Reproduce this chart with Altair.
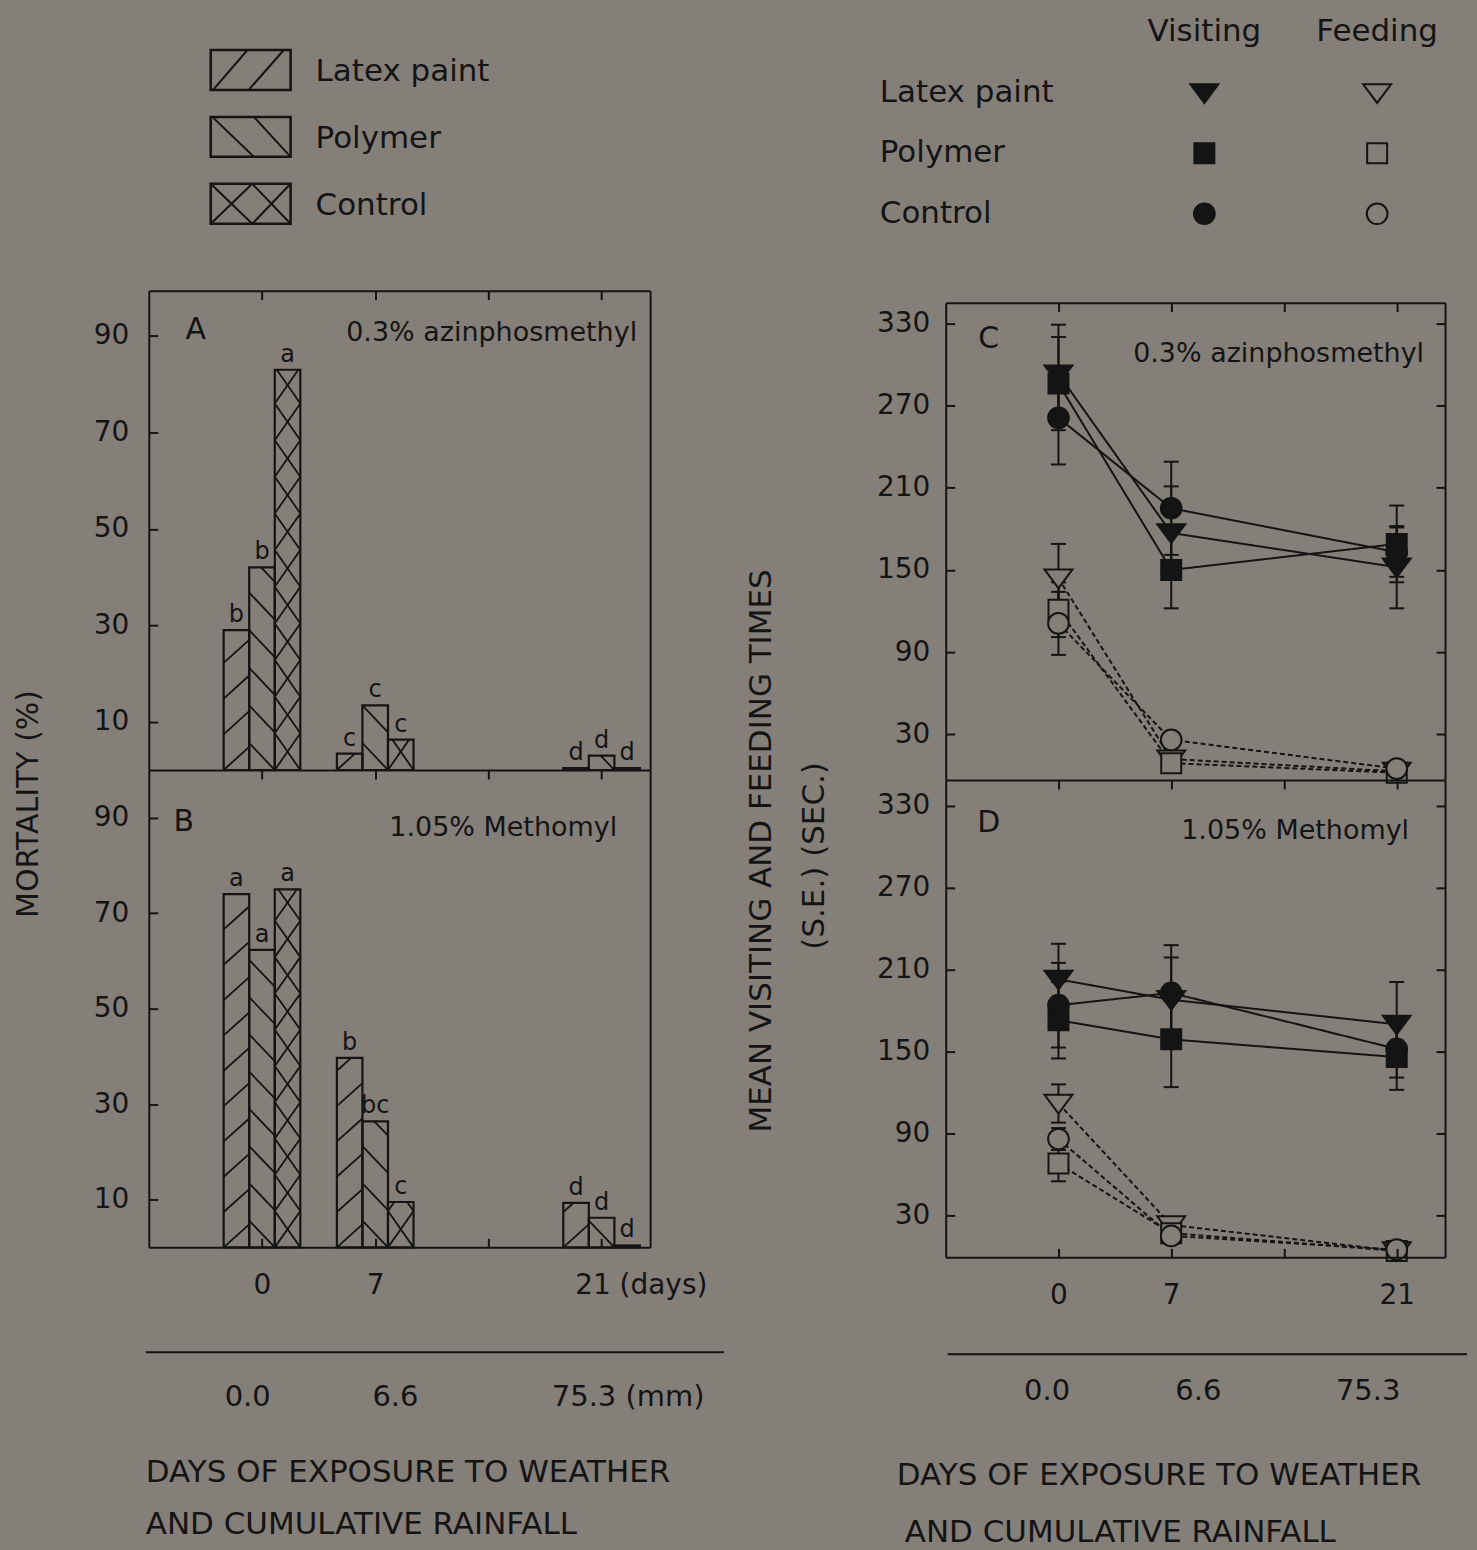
import math
import altair as alt
import pandas as pd

# ---------------- data ----------------
TREATMENTS = ["Latex paint", "Polymer", "Control"]
KINDS = ["Visiting", "Feeding"]
DAYS = [0, 7, 21]
DAY_TICKS = [0, 7, 14, 21]
RAIN_LABELS_LEFT = ["0.0", "6.6", "75.3 (mm)"]
RAIN_LABELS_RIGHT = ["0.0", "6.6", "75.3"]
MORT_TICKS = [10, 30, 50, 70, 90]
TIME_TICKS = [30, 90, 150, 210, 270, 330]

PANEL_LETTERS = ["A", "B", "C", "D"]
PANEL_TITLES = ["0.3% azinphosmethyl", "1.05% Methomyl"]
Y_TITLE_LEFT = "MORTALITY (%)"
Y_TITLE_RIGHT = ["MEAN VISITING AND FEEDING TIMES", "(S.E.) (SEC.)"]
X_TITLE = ["DAYS OF EXPOSURE TO WEATHER", "AND CUMULATIVE RAINFALL"]

# Panel A: mortality (%), 0.3% azinphosmethyl
A_LATEX = [29.0, 3.4, 0.4]
A_POLYMER = [42.0, 13.4, 3.0]
A_CONTROL = [83.0, 6.3, 0.4]
A_LET_LATEX = ["b", "c", "d"]
A_LET_POLYMER = ["b", "c", "d"]
A_LET_CONTROL = ["a", "c", "d"]

# Panel B: mortality (%), 1.05% Methomyl
B_LATEX = [74.0, 39.7, 9.3]
B_POLYMER = [62.3, 26.4, 6.2]
B_CONTROL = [75.0, 9.5, 0.4]
B_LET_LATEX = ["a", "b", "d"]
B_LET_POLYMER = ["a", "bc", "d"]
B_LET_CONTROL = ["a", "c", "d"]

# Panel C: visiting / feeding times (s), 0.3% azinphosmethyl
C_VIS_LATEX = [293, 177, 152]
C_VIS_LATEX_SE = [36, 34, 30]
C_VIS_POLYMER = [286, 150, 169]
C_VIS_POLYMER_SE = [34, 28, 28]
C_VIS_CONTROL = [261, 195, 163]
C_VIS_CONTROL_SE = [34, 34, 18]
C_FEED_LATEX = [144, 12, 3]
C_FEED_LATEX_SE = [25, 0, 0]
C_FEED_POLYMER = [121, 9, 2]
C_FEED_POLYMER_SE = [20, 0, 0]
C_FEED_CONTROL = [111, 26, 5]
C_FEED_CONTROL_SE = [23, 0, 0]

# Panel D: visiting / feeding times (s), 1.05% Methomyl
D_VIS_LATEX = [203, 188, 170]
D_VIS_LATEX_SE = [26, 31, 31]
D_VIS_POLYMER = [173, 159, 146]
D_VIS_POLYMER_SE = [28, 35, 24]
D_VIS_CONTROL = [184, 193, 152]
D_VIS_CONTROL_SE = [31, 35, 21]
D_FEED_LATEX = [112, 23, 4]
D_FEED_LATEX_SE = [14, 0, 0]
D_FEED_POLYMER = [68, 17, 4]
D_FEED_POLYMER_SE = [13, 0, 0]
D_FEED_CONTROL = [86, 15, 5]
D_FEED_CONTROL_SE = [8, 0, 0]

# ---------------- style / layout ----------------
BG = "#857f7a"
INK = "#141414"
FONT = "DejaVu Sans"

H = 1550
LEFT_W = 580
RIGHT_W = 531
GAP = 218
PANEL_LW = 502
PANEL_RW = 500
X_DOM = [-7, 24]
A_DOM, A_RNG = [0, 99.4], [769, 289]
B_DOM, B_RNG = [0, 100], [1247, 769]
C_DOM, C_RNG = [-3.3, 345.1], [779, 301]
D_DOM, D_RNG = [-0.7, 349.0], [1257, 779]
BAR_W = 1.58

HATCH_STYLE = {
    "Latex paint": (["/"], 7.4, 4.8),
    "Polymer": (["\\"], 7.8, 5.6),
    "Control": (["/", "\\"], 7.6, 7.6),
}
LEGEND_SWATCH = {
    "Latex paint": [(0.03, 1, 0.46, 0), (0.475, 1, 0.915, 0)],
    "Polymer": [(0.02, 0, 0.54, 1), (0.54, 0, 1.0, 1)],
    "Control": [(0.0, 0, 0.52, 1), (0.0, 1, 0.52, 0), (0.52, 0, 1.0, 1), (0.52, 1, 1.0, 0)],
}
LEGEND_ROW_STEP = 1.675
MARKER_SIZE = {"Latex paint": 780, "Polymer": 400, "Control": 430}
FLAT_TRIANGLE_DOWN = "M-1,-0.62L1,-0.62L0,0.72Z"

SHAPE_SCALE = alt.Scale(domain=TREATMENTS, range=[FLAT_TRIANGLE_DOWN, "square", "circle"])
FILL_SCALE = alt.Scale(domain=KINDS, range=[INK, BG])
DASH_SCALE = alt.Scale(domain=KINDS, range=[[1, 0], [5, 3]])


def xs(width):
    return alt.Scale(domain=X_DOM, range=[0, width], nice=False, zero=False)


def ys(dom, rng):
    return alt.Scale(domain=dom, range=rng, nice=False, zero=False)


def ax(orient, offset=0, values=None, ticks=True, domain=True):
    d = dict(orient=orient, offset=offset, labels=False, ticks=ticks, domain=domain,
             grid=False, title=None, tickSize=9 if ticks else 0, tickWidth=2,
             tickColor=INK, domainColor=INK, domainWidth=2, zindex=1)
    if values is not None:
        d["values"] = values
    return alt.Axis(**d)


def label_axis(orient, offset, values, pad, **kw):
    return alt.Axis(orient=orient, offset=offset, values=values, labels=True, ticks=True,
                    tickSize=0, domain=False, grid=False, title=None, labelPadding=pad,
                    labelFontSize=28, labelColor=INK, labelFont=FONT, labelFlush=False,
                    labelOverlap=False, zindex=1, **kw)


def note(text, x, y, size, align="center", angle=0):
    return alt.Chart(pd.DataFrame({"t": [text]})).mark_text(
        align=align, baseline="middle", fontSize=size, angle=angle, color=INK
    ).encode(text="t:N", x=alt.value(x), y=alt.value(y))


def sep_line(x1, x2, y):
    return alt.Chart(pd.DataFrame({"a": [0]})).mark_rule(color=INK, strokeWidth=2).encode(
        x=alt.value(x1), x2=alt.value(x2), y=alt.value(y))


# ---------------- bar panels ----------------
def bar_frame(series, letters):
    rows = []
    for ti, t in enumerate(TREATMENTS):
        for di, d in enumerate(DAYS):
            c = d + (ti - 1) * BAR_W
            rows.append(dict(treatment=t, day=d, value=series[ti][di], letter=letters[ti][di],
                             x0=c - BAR_W / 2, x1=c + BAR_W / 2, xc=c, base=0.0))
    return pd.DataFrame(rows)


def clip_seg(xa, ya, xb, yb, h):
    dy = yb - ya
    ta, tb = (0 - ya) / dy, (h - ya) / dy
    lo, hi = max(0.0, min(ta, tb)), min(1.0, max(ta, tb))
    if hi - lo < 0.02:
        return None
    return (xa + (xb - xa) * lo, ya + dy * lo, xa + (xb - xa) * hi, ya + dy * hi)


def hatch_frame(df):
    out = []
    for r in df.itertuples():
        dirs, sp, rise = HATCH_STYLE[r.treatment]
        h = r.value
        if h < 1.0:
            continue
        kmin = -int(math.ceil(rise / sp)) - 1
        kmax = int(math.ceil(h / sp)) + 1
        for d in dirs:
            for k in range(kmin, kmax + 1):
                yb = k * sp
                ya, yc = (yb, yb + rise) if d == "/" else (yb + rise, yb)
                seg = clip_seg(r.x0, ya, r.x1, yc, h)
                if seg:
                    out.append(dict(hx0=seg[0], hy0=seg[1], hx1=seg[2], hy1=seg[3]))
    return pd.DataFrame(out)


def bar_panel(df, dom, rng, x_bars, x_hatch, x_letters, y_labels, y_left_in, y_right):
    bars = alt.Chart(df).mark_rect(fill="transparent", stroke=INK, strokeWidth=2.2).encode(
        x=alt.X("x0:Q", scale=xs(PANEL_LW), axis=x_bars), x2="x1:Q",
        y=alt.Y("value:Q", scale=ys(dom, rng), axis=y_labels), y2="base:Q")
    hatch = alt.Chart(hatch_frame(df)).mark_rule(color=INK, strokeWidth=1.8).encode(
        x=alt.X("hx0:Q", scale=xs(PANEL_LW), axis=x_hatch), x2="hx1:Q",
        y=alt.Y("hy0:Q", scale=ys(dom, rng), axis=y_left_in), y2="hy1:Q")
    letters = alt.Chart(df).mark_text(baseline="bottom", dy=-3, fontSize=24, color=INK).encode(
        x=alt.X("xc:Q", scale=xs(PANEL_LW), axis=x_letters),
        y=alt.Y("value:Q", scale=ys(dom, rng), axis=y_right), text="letter:N")
    return [bars, hatch, letters]


dfA = bar_frame([A_LATEX, A_POLYMER, A_CONTROL], [A_LET_LATEX, A_LET_POLYMER, A_LET_CONTROL])
dfB = bar_frame([B_LATEX, B_POLYMER, B_CONTROL], [B_LET_LATEX, B_LET_POLYMER, B_LET_CONTROL])

panelA = bar_panel(
    dfA, A_DOM, A_RNG,
    x_bars=ax("bottom", A_RNG[1] - H, DAY_TICKS),
    x_hatch=None, x_letters=None,
    y_labels=label_axis("left", 0, MORT_TICKS, 20),
    y_left_in=ax("right", -LEFT_W, MORT_TICKS),
    y_right=ax("left", -PANEL_LW, ticks=False))

b_xlabels = label_axis(
    "bottom", B_RNG[0] - H, DAYS, 24,
    labelExpr="datum.value == 21 ? '21 (days)' : datum.label",
    labelAlign={"condition": {"test": "datum.value == 21", "value": "left"}, "value": "center"},
    labelOffset={"condition": {"test": "datum.value == 21", "value": -27}, "value": 0})

panelB = bar_panel(
    dfB, B_DOM, B_RNG,
    x_bars=b_xlabels,
    x_hatch=ax("bottom", B_RNG[1] - H, DAY_TICKS),
    x_letters=ax("top", -B_RNG[0], DAY_TICKS),
    y_labels=label_axis("left", 0, MORT_TICKS, 20),
    y_left_in=ax("right", -LEFT_W, MORT_TICKS),
    y_right=ax("left", -PANEL_LW, ticks=False))

# left legend (hatched swatches)
leg_rows, leg_lines = [], []
for r, t in enumerate(TREATMENTS):
    off = r * LEGEND_ROW_STEP
    leg_rows.append(dict(treatment=t, bx0=0.0, bx1=1.0, by0=off, by1=off + 1.0, ty=off + 0.55))
    for (xa, ya, xb, yb) in LEGEND_SWATCH[t]:
        leg_lines.append(dict(lx0=xa, ly0=ya + off, lx1=xb, ly1=yb + off))
legL = pd.DataFrame(leg_rows)
legLH = pd.DataFrame(leg_lines)
LGX = alt.Scale(domain=[0, 1], range=[62, 142], nice=False, zero=False)
LGY = alt.Scale(domain=[0, 1], range=[48, 88], nice=False, zero=False)
leg_boxes = alt.Chart(legL).mark_rect(fill="transparent", stroke=INK, strokeWidth=2.5).encode(
    x=alt.X("bx0:Q", scale=LGX, axis=None), x2="bx1:Q",
    y=alt.Y("by0:Q", scale=LGY, axis=None), y2="by1:Q")
leg_hatch = alt.Chart(legLH).mark_rule(color=INK, strokeWidth=2).encode(
    x=alt.X("lx0:Q", scale=LGX, axis=None), x2="lx1:Q",
    y=alt.Y("ly0:Q", scale=LGY, axis=None), y2="ly1:Q")
leg_text = alt.Chart(legL).mark_text(align="left", baseline="middle", fontSize=31, color=INK).encode(
    x=alt.value(167), y=alt.Y("ty:Q", scale=LGY, axis=None), text="treatment:N")

rainL = alt.Chart(pd.DataFrame({"day": DAYS, "rain": RAIN_LABELS_LEFT})).mark_text(
    fontSize=29, baseline="middle", color=INK).encode(
    x=alt.X("day:Q", scale=alt.Scale(domain=DAYS, range=[99, 247, 480], nice=False, zero=False), axis=None),
    y=alt.value(1397), text="rain:N")

anchor = alt.Chart(pd.DataFrame({"a": [0]})).mark_rule(color=BG, strokeWidth=0.5).encode(
    x=alt.value(-148), y=alt.value(0), y2=alt.value(H))

left = alt.layer(
    anchor, leg_boxes, leg_hatch, leg_text,
    *panelA, *panelB,
    note(PANEL_LETTERS[0], 47, 328, 30),
    note(PANEL_TITLES[0], 489, 331, 27, align="right"),
    note(PANEL_LETTERS[1], 35, 821, 30),
    note(PANEL_TITLES[1], 469, 827, 27, align="right"),
    note(Y_TITLE_LEFT, -120, 803, 30, angle=270),
    sep_line(-3, 576, 1352), rainL,
    note(X_TITLE[0], -3, 1473, 31, align="left"),
    note(X_TITLE[1], -3, 1525, 31, align="left"),
).resolve_scale(x="independent", y="independent").resolve_axis(
    x="independent", y="independent").properties(width=LEFT_W, height=H)


# ---------------- time panels ----------------
def time_frame(vis, vis_se, feed, feed_se):
    rows = []
    for ti, t in enumerate(TREATMENTS):
        for kind, vals, ses in (("Visiting", vis, vis_se), ("Feeding", feed, feed_se)):
            for di, d in enumerate(DAYS):
                v, s = vals[ti][di], ses[ti][di]
                rows.append(dict(treatment=t, kind=kind, series=t + "|" + kind, day=d,
                                 value=v, se=s, lo=v - s, hi=v + s, msize=MARKER_SIZE[t]))
    return pd.DataFrame(rows)


def time_panel(df, dom, rng, x_lines, x_err, x_caps, y_labels, y_left_in, y_right_in):
    lines = alt.Chart(df).mark_line(color=INK, strokeWidth=2).encode(
        x=alt.X("day:Q", scale=xs(PANEL_RW), axis=x_lines),
        y=alt.Y("value:Q", scale=ys(dom, rng), axis=y_labels),
        detail="series:N",
        strokeDash=alt.StrokeDash("kind:N", scale=DASH_SCALE, legend=None))
    err = alt.Chart(df).transform_filter("datum.se > 0").mark_rule(color=INK, strokeWidth=2).encode(
        x=alt.X("day:Q", scale=xs(PANEL_RW), axis=x_err),
        y=alt.Y("lo:Q", scale=ys(dom, rng), axis=y_left_in), y2="hi:Q")
    caps = alt.Chart(df).transform_filter("datum.se > 0").transform_fold(
        ["lo", "hi"], as_=["end", "cap"]).mark_tick(
        orient="horizontal", size=15, thickness=2, color=INK, opacity=1).encode(
        x=alt.X("day:Q", scale=xs(PANEL_RW), axis=x_caps),
        y=alt.Y("cap:Q", scale=ys(dom, rng), axis=y_right_in))
    pts = alt.Chart(df).mark_point(filled=True, stroke=INK, strokeWidth=2, opacity=1, fillOpacity=1).encode(
        x=alt.X("day:Q", scale=xs(PANEL_RW), axis=None),
        y=alt.Y("value:Q", scale=ys(dom, rng), axis=None),
        shape=alt.Shape("treatment:N", scale=SHAPE_SCALE, legend=None),
        size=alt.Size("msize:Q", scale=None, legend=None),
        fill=alt.Fill("kind:N", scale=FILL_SCALE, legend=None))
    return [lines, err, caps, pts]


dfC = time_frame([C_VIS_LATEX, C_VIS_POLYMER, C_VIS_CONTROL],
                 [C_VIS_LATEX_SE, C_VIS_POLYMER_SE, C_VIS_CONTROL_SE],
                 [C_FEED_LATEX, C_FEED_POLYMER, C_FEED_CONTROL],
                 [C_FEED_LATEX_SE, C_FEED_POLYMER_SE, C_FEED_CONTROL_SE])
dfD = time_frame([D_VIS_LATEX, D_VIS_POLYMER, D_VIS_CONTROL],
                 [D_VIS_LATEX_SE, D_VIS_POLYMER_SE, D_VIS_CONTROL_SE],
                 [D_FEED_LATEX, D_FEED_POLYMER, D_FEED_CONTROL],
                 [D_FEED_LATEX_SE, D_FEED_POLYMER_SE, D_FEED_CONTROL_SE])

panelC = time_panel(
    dfC, C_DOM, C_RNG,
    x_lines=ax("bottom", C_RNG[1] - H, DAY_TICKS), x_err=None, x_caps=None,
    y_labels=label_axis("left", 0, TIME_TICKS, 16),
    y_left_in=ax("right", -RIGHT_W, TIME_TICKS),
    y_right_in=ax("left", -PANEL_RW, TIME_TICKS))
panelD = time_panel(
    dfD, D_DOM, D_RNG,
    x_lines=label_axis("bottom", D_RNG[0] - H, DAYS, 24),
    x_err=ax("bottom", D_RNG[1] - H, DAY_TICKS),
    x_caps=ax("top", -D_RNG[0], DAY_TICKS),
    y_labels=label_axis("left", 0, TIME_TICKS, 16),
    y_left_in=ax("right", -RIGHT_W, TIME_TICKS),
    y_right_in=ax("left", -PANEL_RW, TIME_TICKS))

# right legend (symbol table)
LRX = alt.Scale(domain=KINDS, range=[259, 432], padding=0)
LRY = alt.Scale(domain=TREATMENTS, range=[91, 212], padding=0)
legR = pd.DataFrame([dict(treatment=t, kind=k, msize=MARKER_SIZE[t]) for t in TREATMENTS for k in KINDS])
leg_syms = alt.Chart(legR).mark_point(filled=True, stroke=INK, strokeWidth=2, opacity=1, fillOpacity=1).encode(
    x=alt.X("kind:N", scale=LRX, axis=None),
    y=alt.Y("treatment:N", scale=LRY, axis=None),
    shape=alt.Shape("treatment:N", scale=SHAPE_SCALE, legend=None),
    size=alt.Size("msize:Q", scale=None, legend=None),
    fill=alt.Fill("kind:N", scale=FILL_SCALE, legend=None))
leg_heads = alt.Chart(pd.DataFrame({"kind": KINDS})).mark_text(
    fontSize=31, baseline="middle", color=INK).encode(
    x=alt.X("kind:N", scale=LRX, axis=None), y=alt.value(30), text="kind:N")
leg_rowlab = alt.Chart(pd.DataFrame({"treatment": TREATMENTS})).mark_text(
    align="left", baseline="middle", fontSize=31, color=INK).encode(
    x=alt.value(-66), y=alt.Y("treatment:N", scale=LRY, axis=None), text="treatment:N")

rainR = alt.Chart(pd.DataFrame({"day": DAYS, "rain": RAIN_LABELS_RIGHT})).mark_text(
    fontSize=29, baseline="middle", color=INK).encode(
    x=alt.X("day:Q", scale=alt.Scale(domain=DAYS, range=[101.5, 253, 423], nice=False, zero=False), axis=None),
    y=alt.value(1391), text="rain:N")

right = alt.layer(
    leg_syms, leg_heads, leg_rowlab,
    *panelC, *panelD,
    note(PANEL_LETTERS[2], 43, 337, 30),
    note(PANEL_TITLES[0], 479, 352, 27, align="right"),
    note(PANEL_LETTERS[3], 43, 822, 30),
    note(PANEL_TITLES[1], 464, 830, 27, align="right"),
    note(Y_TITLE_RIGHT[0], -184, 850, 31, angle=270),
    note(Y_TITLE_RIGHT[1], -131, 855, 31, angle=270),
    sep_line(2, 522, 1354), rainR,
    note(X_TITLE[0], -49, 1476, 31, align="left"),
    note(X_TITLE[1], -41, 1533, 31, align="left"),
).resolve_scale(x="independent", y="independent").resolve_axis(
    x="independent", y="independent").properties(width=RIGHT_W, height=H)

chart = alt.hconcat(left, right, spacing=GAP, bounds="flush", padding=0).configure(
    background=BG, font=FONT).configure_view(stroke="transparent")

chart.save("out.html", embed_options={"renderer": "svg", "actions": False})
